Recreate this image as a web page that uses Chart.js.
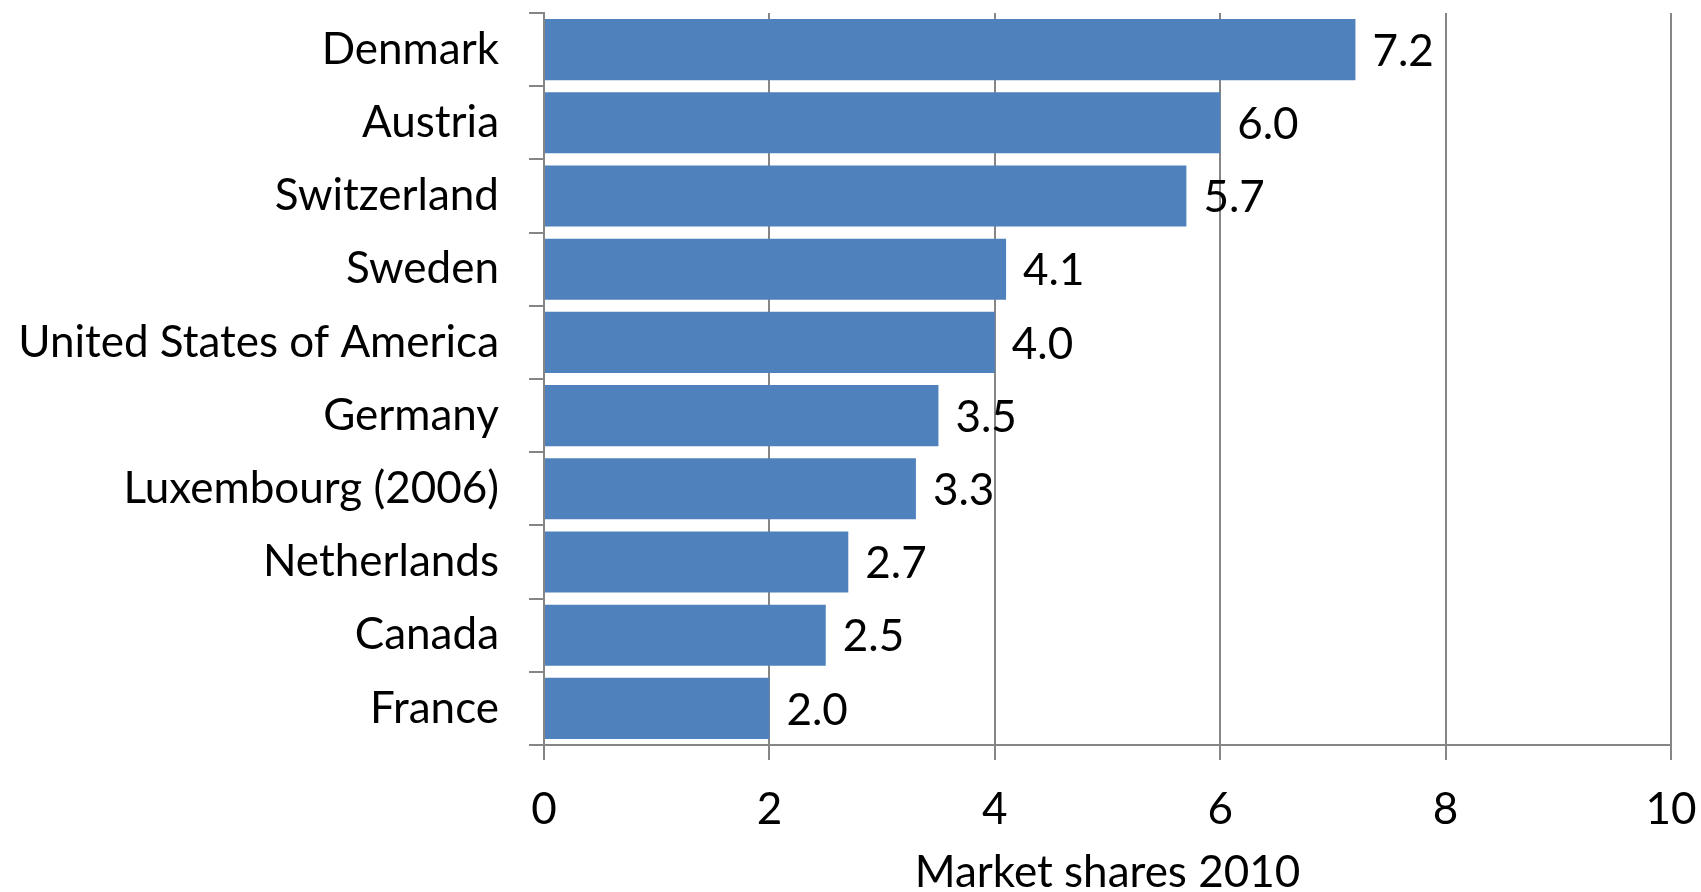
<!DOCTYPE html>
<html>
<head>
<meta charset="utf-8">
<script src="https://cdn.jsdelivr.net/npm/chart.js@4/dist/chart.umd.min.js"></script>
<style>
  html, body { margin: 0; padding: 0; background: #fff; }
  #wrap { width: 1701px; height: 892px; }
</style>
</head>
<body>
<div id="wrap"><canvas id="chart" width="1701" height="892"></canvas></div>
<script>
const countries = [
  'Denmark', 'Austria', 'Switzerland', 'Sweden', 'United States of America',
  'Germany', 'Luxembourg (2006)', 'Netherlands', 'Canada', 'France'
];
const shares = [7.2, 6.0, 5.7, 4.1, 4.0, 3.5, 3.3, 2.7, 2.5, 2.0];
const xTicks = [0, 2, 4, 6, 8, 10];
const axisTitle = 'Market shares 2010';

const FONT = 'Lato';
const SIZE = 44;
const GREY = '#868686';

// value labels to the right of each bar
const valueLabels = {
  id: 'valueLabels',
  afterDatasetsDraw(chart) {
    const ctx = chart.ctx;
    const meta = chart.getDatasetMeta(0);
    ctx.save();
    ctx.font = SIZE + 'px ' + FONT;
    ctx.fillStyle = '#000';
    ctx.textAlign = 'left';
    ctx.textBaseline = 'middle';
    meta.data.forEach((bar, i) => {
      ctx.fillText(shares[i].toFixed(1), bar.x + 17, bar.y + 2);
    });
    ctx.restore();
  }
};

new Chart(document.getElementById('chart'), {
  type: 'bar',
  data: {
    labels: countries,
    datasets: [{
      data: shares,
      backgroundColor: '#4f81bd',
      borderWidth: 0,
      barPercentage: 0.835,
      categoryPercentage: 1
    }]
  },
  options: {
    indexAxis: 'y',
    responsive: false,
    animation: false,
    layout: { padding: { top: 13, right: 30, left: 0, bottom: 0 } },
    plugins: {
      legend: { display: false },
      tooltip: { enabled: false }
    },
    scales: {
      x: {
        min: 0,
        max: 10,
        afterBuildTicks: (s) => { s.ticks = xTicks.map(v => ({ value: v })); },
        afterFit: (s) => { s.height = 147; s.paddingLeft = 0; s.paddingRight = 0; },
        grid: { color: GREY, lineWidth: 2, tickLength: 15, tickColor: GREY },
        border: { color: GREY, width: 2 },
        ticks: { color: '#000', padding: 23, font: { family: FONT, size: SIZE } },
        title: {
          display: true,
          text: axisTitle,
          color: '#000',
          padding: { top: 0, bottom: -3 },
          font: { family: FONT, size: SIZE, lineHeight: 1 }
        }
      },
      y: {
        afterFit: (s) => { s.width = 544; s.paddingTop = 0; s.paddingBottom = 0; },
        grid: { drawOnChartArea: false, color: GREY, lineWidth: 2, tickLength: 15 },
        border: { color: GREY, width: 2 },
        ticks: { color: '#000', padding: 30, font: { family: FONT, size: SIZE } }
      }
    }
  },
  plugins: [valueLabels]
});
</script>
</body>
</html>
